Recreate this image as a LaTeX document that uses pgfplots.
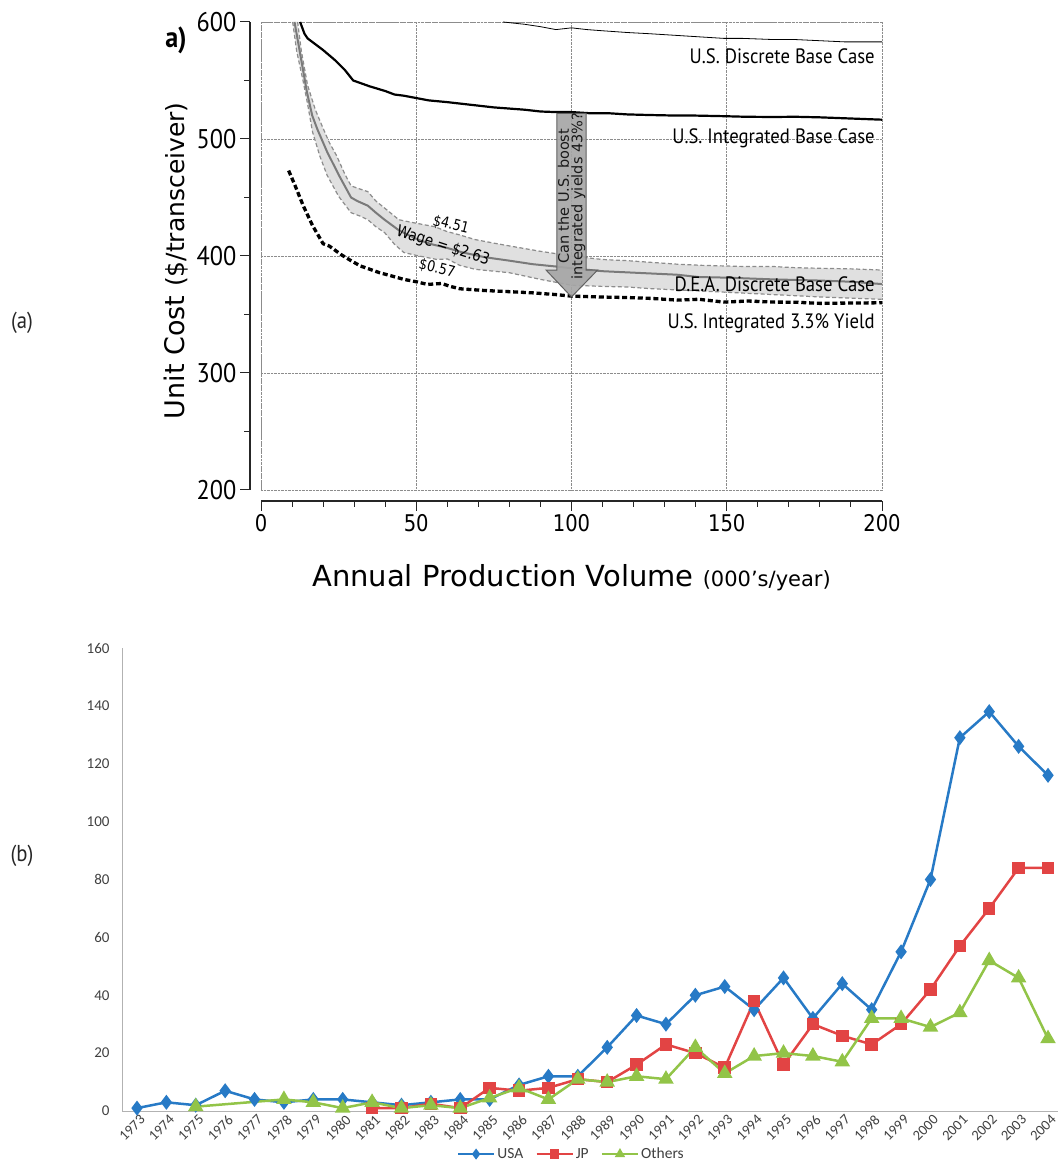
\documentclass[border=0pt]{standalone}
\usepackage{pgfplots}
\pgfplotsset{compat=1.18}
\usepackage{pgfplotstable}
\usepackage{fontspec}
\setmainfont{DejaVu Sans}
\newfontfamily\pts{PT Sans}
\newfontfamily\ptsc[FakeStretch=0.9]{PT Sans}
\newfontfamily\dvc[FakeStretch=0.85]{DejaVu Sans}
\newfontfamily\carl{Carlito}
\definecolor{cusa}{RGB}{39,122,198}
\definecolor{cjp}{RGB}{226,68,68}
\definecolor{coth}{RGB}{146,196,72}

% ---------- panel (a) data ----------
\pgfplotstableread{
x y
78 600
85 598
90 596
95 593.5
100 595
105 593.5
110 592.5
118 591
125 590
134 588.5
140 587.5
149 586
155 586
165 585
172 585
180 584
188 583
195 583
200 583
}\usdisc
\pgfplotstableread{
x y
12.6 600
14 590
15 586
18 580
20 576
24 567
27 559
29.7 550
35 545
40 541
43 538
46 537
50 535
54 533
60 531.5
65 530
70 528.5
75 527
80 526
85 525
90 523.5
95 523
100 523
106 522
112 522
118 521
125 520.5
134 520
140 520
149 519.5
156 519
165 518.8
172 519
180 518.5
190 517.5
200 516.5
}\usint
\pgfplotstableread{
x y
10.8 600
12.8 570
14.8 540
16.5 520
18.2 508
21.3 489
25.1 469
29 450
31 447
34.4 443
37 437
39.8 431
44.4 422
50.5 414
55 410
59.8 407
65 403
72 399
80 396
87.5 393
95 391
100 389.5
110 387
118 386
126 385
134 384
141 382
150 381.5
165 380
180 379
190 378
200 376
}\dea
\pgfplotstableread{
x y
11.8 600
13 575
15 546
17.5 525
19.7 511
22 497
24.3 486
27 470
29 460
31 458
34.4 455
37 447
39.8 441
44.4 431
48 429
52 427
56 425
59.8 421
64 418
69 414
75 411
80 408.6
90 404
100 400
110 397
118 396
126 394.5
134 393
142 392
149 391.5
156 391
165 391
172 390
180 389.5
190 389
200 388
}\deaup
\pgfplotstableread{
x y
10.2 600
11.5 575
13.6 549
15 530
16.6 506
19 485
21.3 469
25 451
29 437
32 434
34.4 431
37 425
39.8 420
43 410
46 403
50 400.5
56.7 397
60 397.5
64 392
69 388.6
75 387
80 385.7
90 380
100 375
110 374
118 373.5
126 372
134 371
142 370
150 369
165 367
180 365
190 364
200 363
}\dealo
\pgfplotstableread{
x y
8.9 473
11 460
13.6 443
16.6 426
20 410.5
22 408.5
25.9 401
29 396
32 391.5
38.2 385.7
42 383
46 380
50 378
53.6 375.7
58.2 376.5
61 374
64 372
72 370.5
80 369.5
87.5 368.5
95 367
100 365.7
110 364.9
118 364.5
126 363.7
134 362.3
141 363
149 360.6
157 361.5
165 360.6
172 360.5
180 359.5
190 359.8
200 360
}\usyield

% ---------- panel (b) data ----------
\pgfplotstableread{
year n
1973 1
1974 3
1975 2
1976 7
1977 4
1978 3
1979 4
1980 4
1981 3
1982 2
1983 3
1984 4
1985 4
1986 9
1987 12
1988 12
1989 22
1990 33
1991 30
1992 40
1993 43
1994 35
1995 46
1996 32
1997 44
1998 35
1999 55
2000 80
2001 129
2002 138
2003 126
2004 116
}\usa
\pgfplotstableread{
year n
1981 1
1982 1
1983 2.5
1984 1
1985 8
1986 7
1987 8
1988 11
1989 10
1990 16
1991 23
1992 20
1993 15
1994 38
1995 16
1996 30
1997 26
1998 23
1999 30
2000 42
2001 57
2002 70
2003 84
2004 84
}\jp
\pgfplotstableread{
year n
1975 1.5
1978 4
1979 3
1980 1
1981 3
1982 1
1983 2
1984 1
1985 4.5
1986 8
1987 4
1988 11
1989 10
1990 12
1991 11
1992 22
1993 13
1994 19
1995 20
1996 19
1997 17
1998 32
1999 32
2000 29
2001 34
2002 52
2003 46
2004 25
}\others

\begin{document}
\begin{tikzpicture}[x=1pt,y=1pt]
\useasboundingbox (0,0) rectangle (1058,1163);

% ================= panel (a): offset y axis =================
\begin{axis}[
  at={(250pt,673pt)}, anchor=south west,
  width=621pt, height=468pt, scale only axis,
  xmin=0, xmax=200, ymin=200, ymax=600,
  axis y line=left, axis x line=none,
  axis line style={-, line width=1.2pt, black!85},
  tick align=outside, major tick length=10pt, minor tick length=6pt,
  every tick/.append style={black!85, line width=1pt},
  xtick=\empty,
  ytick={200,300,...,600}, minor y tick num=1,
  /pgf/number format/assume math mode=true,
  yticklabel style={font=\ptsc\fontsize{27}{27}\selectfont},
  ylabel={\fontsize{27}{27}\selectfont Unit Cost \fontsize{25}{25}\selectfont(\$/transceiver)},
  every axis y label/.style={at={(axis description cs:-0.119,0.49)}, anchor=center, rotate=90},
]
\end{axis}
% ================= panel (a): offset x axis =================
\begin{axis}[
  at={(261pt,662pt)}, anchor=south west,
  width=621pt, height=468pt, scale only axis,
  xmin=0, xmax=200, ymin=200, ymax=600,
  axis x line=bottom, axis y line=none,
  axis line style={-, line width=1.2pt, black!85},
  tick align=outside, major tick length=10pt, minor tick length=6pt,
  every tick/.append style={black!85, line width=1pt},
  ytick=\empty,
  xtick={0,50,...,200}, minor x tick num=4,
  /pgf/number format/assume math mode=true,
  xticklabel style={font=\dvc\fontsize{23}{23}\selectfont},
  xlabel={\fontsize{29}{29}\selectfont Annual Production Volume \fontsize{21}{21}\selectfont(000's/year)},
  every axis x label/.style={at={(axis description cs:0.5,-0.163)}, anchor=center},
]
\end{axis}
% ================= panel (a): data =================
\begin{axis}[
  at={(261pt,673pt)}, anchor=south west,
  width=621pt, height=468pt, scale only axis,
  xmin=0, xmax=200, ymin=200, ymax=600,
  axis line style={draw=none},
  major tick length=0pt, minor tick length=0pt,
  xtick={0,50,...,200}, ytick={200,300,...,600},
  xticklabels={}, yticklabels={},
  grid=major, major grid style={densely dotted, black!45, line width=0.8pt},
]
\draw[densely dotted, black!45, line width=0.8pt] (rel axis cs:0,0) rectangle (rel axis cs:1,1);
\addplot[fill=black!12, draw=none, forget plot] coordinates {
(11.8,600) (13,575) (15,546) (17.5,525) (19.7,511) (22,497) (24.3,486) (27,470) (29,460) (31,458)
(34.4,455) (37,447) (39.8,441) (44.4,431) (48,429) (52,427) (56,425) (59.8,421) (64,418) (69,414)
(75,411) (80,408.6) (90,404) (100,400) (110,397) (118,396) (126,394.5) (134,393) (142,392) (149,391.5)
(156,391) (165,391) (172,390) (180,389.5) (190,389) (200,388)
(200,363) (190,364) (180,365) (165,367) (150,369) (142,370) (134,371) (126,372) (118,373.5) (110,374)
(100,375) (90,380) (80,385.7) (75,387) (69,388.6) (64,392) (60,397.5) (56.7,397) (50,400.5) (46,403)
(43,410) (39.8,420) (37,425) (34.4,431) (32,434) (29,437) (25,451) (21.3,469) (19,485) (16.6,506)
(15,530) (13.6,549) (11.5,575) (10.2,600)
} -- cycle;
\addplot[black!45, line width=1.2pt, dash pattern=on 4pt off 2.5pt] table {\deaup};
\addplot[black!45, line width=1.2pt, dash pattern=on 4pt off 2.5pt] table {\dealo};
\addplot[black!52, line width=2pt] table {\dea};
\addplot[black, line width=0.8pt] table {\usdisc};
\addplot[black, line width=2.2pt] table {\usint};
\addplot[black, line width=3.3pt, dash pattern=on 5pt off 2.8pt] table {\usyield};
% arrow
\filldraw[fill=black!35, draw=black!62, line width=1pt, fill opacity=0.92]
  (axis cs:95.3,522) -- (axis cs:104.7,522) -- (axis cs:104.7,388) -- (axis cs:108.4,388)
  -- (axis cs:100,365) -- (axis cs:91.8,388) -- (axis cs:95.3,388) -- cycle;
\node[rotate=90, align=center, font=\fontsize{14.5}{13.5}\selectfont, text=black!90]
  at (axis cs:100,451) {Can the U.S. boost\\integrated yields 43\%?};
% band labels
\node[rotate=-14, font=\dvc\fontsize{15}{15}\selectfont] at (axis cs:61.2,426.5) {\$4.51};
\node[rotate=-18, font=\dvc\fontsize{16}{16}\selectfont] at (axis cs:58.6,408.5) {Wage = \$2.63};
\node[rotate=-14, font=\dvc\fontsize{15}{15}\selectfont] at (axis cs:56.7,389) {\$0.57};
% series labels
\node[anchor=east, inner sep=0pt, font=\ptsc\fontsize{20.8}{20.8}\selectfont] at (axis cs:197.7,571) {U.S. Discrete Base Case};
\node[anchor=east, inner sep=0pt, font=\ptsc\fontsize{20.8}{20.8}\selectfont] at (axis cs:197.7,501) {U.S. Integrated Base Case};
\node[anchor=east, inner sep=0pt, font=\ptsc\fontsize{20.8}{20.8}\selectfont] at (axis cs:197.7,376) {D.E.A. Discrete Base Case};
\node[anchor=east, inner sep=0pt, font=\ptsc\fontsize{20.8}{20.8}\selectfont] at (axis cs:197.7,342.7) {U.S. Integrated 3.3\% Yield};
\end{axis}
\node[font=\ptsc\bfseries\fontsize{29}{29}\selectfont] at (176,1123) {a)};
\node[font=\ptsc\fontsize{23}{23}\selectfont, text=black!85] at (22,840) {(a)};
\node[font=\ptsc\fontsize{23}{23}\selectfont, text=black!85] at (22,307) {(b)};

% ================= panel (b) =================
\begin{axis}[
  at={(122pt,52pt)}, anchor=south west,
  width=936pt, height=463pt, scale only axis,
  xmin=1972.49, xmax=2004.34, ymin=0, ymax=160,
  axis x line*=bottom, axis y line*=left,
  axis line style={-, black!30, line width=1pt},
  major tick length=0pt,
  xtick={1973,1974,...,2004}, ytick={0,20,...,160},
  /pgf/number format/1000 sep={},
  /pgf/number format/assume math mode=true,
  yticklabel style={font=\carl\fontsize{15}{15}\selectfont, text=black!75, xshift=-9pt},
  xticklabel style={font=\carl\fontsize{14.5}{14.5}\selectfont, text=black!75, rotate=45, anchor=north east, inner sep=0.5pt, yshift=-3pt},
  legend style={at={(axis description cs:0.48,-0.093)}, anchor=center, draw=none,
    legend columns=3, font=\carl\fontsize{15.5}{15.5}\selectfont, text=black!75,
    /tikz/every even column/.append style={column sep=10pt}},
  legend image code/.code={\draw[mark repeat=2, mark phase=2, #1, mark size=3.5pt] plot coordinates {(0pt,0pt) (18pt,0pt) (36pt,0pt)};},
]
\addplot[cusa, line width=2.5pt, mark=diamond*, mark size=5.5pt, mark options={solid}] table[x=year,y=n] {\usa};
\addlegendentry{USA}
\addplot[cjp, line width=2.5pt, mark=square*, mark size=5pt, mark options={solid}] table[x=year,y=n] {\jp};
\addlegendentry{JP}
\addplot[coth, line width=2.5pt, mark=triangle*, mark size=6.5pt, mark options={solid}] table[x=year,y=n] {\others};
\addlegendentry{Others}
\end{axis}
\end{tikzpicture}
\end{document}
